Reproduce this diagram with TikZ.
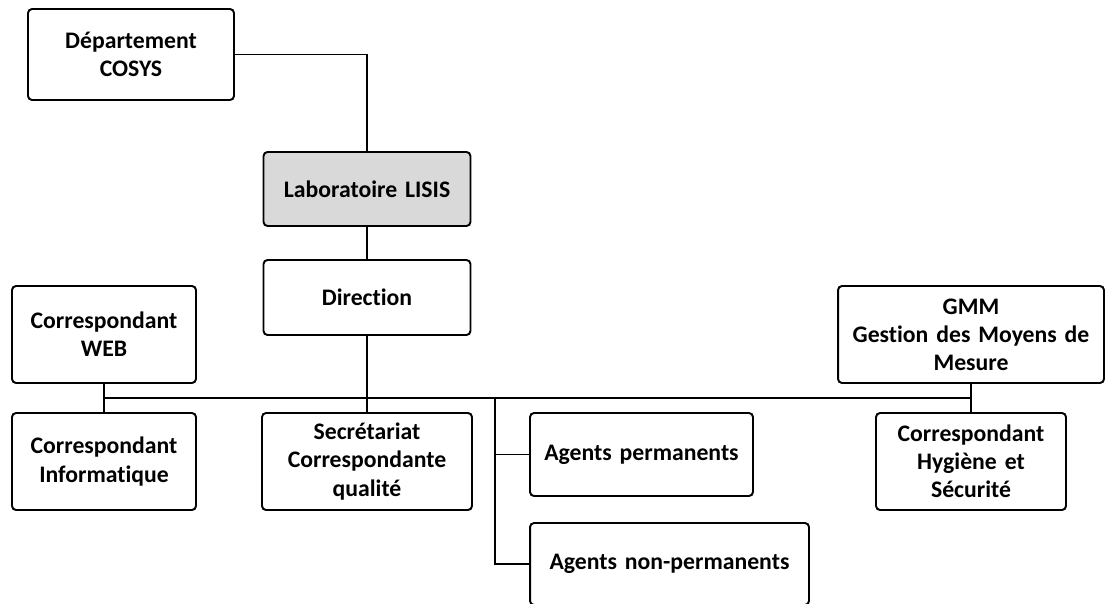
\documentclass[tikz,border=0pt]{standalone}
\usepackage{fontspec}
\setmainfont{Carlito}[Ligatures=NoCommon]
\usepackage{tikz}
\newcommand\boxfont{\fontsize{13.5}{16}\selectfont\bfseries\fontdimen2\font=0.17em\relax}

\begin{document}
\begin{tikzpicture}[x=0.02cm, y=-0.02cm,
    box/.style={draw, rounded corners=0.8mm, line width=1.1pt, align=center,
        inner sep=0pt, font=\boxfont},
    link/.style={line width=0.9pt}]
\useasboundingbox (0,0) rectangle (1105,603);

\node[box, text width=4.12cm, minimum height=1.82cm] (dep) at (131,54.5) {Département\\COSYS};
\node[box, fill=black!15, text width=4.14cm, minimum height=1.48cm] (lab) at (367,189) {Laboratoire LISIS};
\node[box, text width=4.14cm, minimum height=1.5cm] (dir) at (367,297.5) {Direction};
\node[box, text width=3.68cm, minimum height=1.94cm] (web) at (104,334.5) {Correspondant\\WEB};
\node[box, text width=5.32cm, minimum height=1.94cm] (gmm) at (971,334.5) {GMM\\Gestion des Moyens de\\Mesure};
\node[box, text width=3.68cm, minimum height=1.94cm] (info) at (104,461.5) {Correspondant\\Informatique};
\node[box, text width=4.2cm, minimum height=1.94cm] (sec) at (367,461.5) {Secrétariat\\Correspondante\\qualité};
\node[box, text width=4.46cm, minimum height=1.66cm] (perm) at (641.5,454.5) {Agents permanents};
\node[box, text width=5.58cm, minimum height=1.64cm] (nperm) at (669.5,564) {Agents non-permanents};
\node[box, text width=3.8cm, minimum height=1.94cm] (hyg) at (971,461.5) {Correspondant\\Hygiène et\\Sécurité};

\coordinate (busl) at (104,398);
\coordinate (busr) at (971,398);
\coordinate (ag) at (495,398);

\draw[link] (dep.east) -| (lab.north);
\draw[link] (lab.south) -- (dir.north);
\draw[link] (dir.south) -- (sec.north);
\draw[link] (web.south) -- (info.north);
\draw[link] (gmm.south) -- (hyg.north);
\draw[link] (busl) -- (busr);
\draw[link] (ag) |- (perm.west);
\draw[link] (ag) |- (nperm.west);

\end{tikzpicture}
\end{document}
